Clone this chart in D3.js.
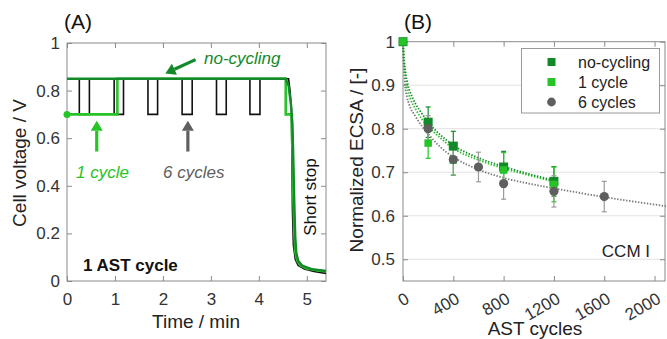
<!DOCTYPE html>
<html lang="en">
<head>
<meta charset="UTF-8">
<title>AST cycles</title>
<script src="https://cdnjs.cloudflare.com/ajax/libs/d3/7.8.5/d3.min.js"></script>
<style>
  body { margin: 0; background: #fff; }
  text { font-family: "Liberation Sans", Arial, Helvetica, sans-serif; }
</style>
</head>
<body>
<svg id="fig" width="667" height="339"></svg>
<script>
// ---- panel A: voltage traces (time in min, voltage in V)
var sixT = [0, 0.257, 0.257, 0.467, 0.467, 0.983, 0.983, 1.178, 1.178, 1.688, 1.688, 1.889, 1.889,
            2.40, 2.40, 2.61, 2.61, 3.117, 3.117, 3.32, 3.32, 3.814, 3.814, 4.023, 4.023,
            4.62, 4.65, 4.68, 4.69, 4.70, 4.72, 4.76, 4.82, 4.95, 5.15, 5.4];
var sixV = [0.85, 0.85, 0.70, 0.70, 0.85, 0.85, 0.70, 0.70, 0.85, 0.85, 0.70, 0.70, 0.85,
            0.85, 0.70, 0.70, 0.85, 0.85, 0.70, 0.70, 0.85, 0.85, 0.70, 0.70, 0.85,
            0.85, 0.80, 0.72, 0.50, 0.30, 0.15, 0.09, 0.065, 0.05, 0.04, 0.032];
var oneT = [0, 1.05, 1.05, 4.56, 4.56, 4.68, 4.70, 4.72, 4.74, 4.76, 4.80, 4.87, 5.0, 5.2, 5.4];
var oneV = [0.70, 0.70, 0.85, 0.85, 0.70, 0.70, 0.55, 0.35, 0.20, 0.12, 0.085, 0.065, 0.052, 0.045, 0.04];
var noT = [0, 4.56, 4.62, 4.67, 4.70, 4.72, 4.74, 4.76, 4.78, 4.82, 4.9, 5.1, 5.4];
var noV = [0.85, 0.85, 0.82, 0.74, 0.66, 0.50, 0.32, 0.18, 0.12, 0.085, 0.065, 0.05, 0.042];
var aXTicks = [0, 1, 2, 3, 4, 5];
var aYTicks = [0, 0.2, 0.4, 0.6, 0.8, 1];

// ---- panel B: normalized ECSA vs AST cycles
var ncX = [0, 200, 400, 800, 1200];
var ncY = [1, 0.815, 0.76, 0.712, 0.679];
var ncErr = [0, 0.035, 0.034, 0.036, 0.034];
var ocX = [0, 200, 400, 800, 1200];
var ocY = [1, 0.767, 0.728, 0.705, 0.672];
var ocErr = [0, 0.035, 0.035, 0.04, 0.04];
var scX = [200, 400, 600, 800, 1200, 1600];
var scY = [0.80, 0.729, 0.712, 0.674, 0.656, 0.644];
var scErr = [0.03, 0.035, 0.034, 0.036, 0.036, 0.035];
// fitted trend lines
var ncFitX = [0, 10, 20, 40, 70, 100, 150, 200, 300, 400, 600, 800, 1000, 1220];
var ncFitY = [1, 0.955, 0.93, 0.9, 0.875, 0.857, 0.835, 0.815, 0.785, 0.762, 0.733, 0.713, 0.696, 0.68];
var ocFitX = [0, 10, 20, 28, 60, 100, 150, 200, 300, 400, 600, 800, 1000, 1220];
var ocFitY = [1, 0.945, 0.918, 0.9, 0.868, 0.845, 0.822, 0.805, 0.778, 0.755, 0.728, 0.709, 0.693, 0.677];
var scFitX = [0, 5, 10, 16, 30, 50, 100, 150, 200, 300, 400, 600, 800, 1000, 1200, 1600, 2090];
var scFitY = [1, 0.95, 0.925, 0.9, 0.875, 0.855, 0.828, 0.806, 0.788, 0.757, 0.735, 0.706, 0.687, 0.674, 0.663, 0.643, 0.622];
var bXTicks = [0, 400, 800, 1200, 1600, 2000];
var bYTicks = [0.5, 0.6, 0.7, 0.8, 0.9, 1];
var legendNames = ['no-cycling', '1 cycle', '6 cycles'];

var darkGreen = '#13892a';
var lightGreen = '#27c428';
var grey = '#5f5f5f';
var frameCol = '#8a8a8a';

var svg = d3.select('#fig');

function zip(xs, ys) {
    return xs.map(function (x, i) { return [x, ys[i]]; });
}

function frame(g, x, y) {
    var r = x.range(), t = y.range();
    g.append('rect')
        .attr('x', r[0]).attr('y', t[1])
        .attr('width', r[1] - r[0]).attr('height', t[0] - t[1])
        .attr('fill', 'none').attr('stroke', frameCol).attr('stroke-width', 1);
}

function styleAxis(sel) {
    sel.select('.domain').remove();
    sel.selectAll('line').attr('stroke', frameCol);
    sel.selectAll('text').attr('fill', '#333').style('font-size', '17px');
}

// ================= panel A =================
var xA = d3.scaleLinear().domain([0, 5.4]).range([67, 326]);
var yA = d3.scaleLinear().domain([0, 1]).range([281, 43]);
var gA = svg.append('g');

gA.append('g').attr('transform', 'translate(0,281)')
    .call(d3.axisBottom(xA).tickValues(aXTicks).tickSizeInner(-5).tickSizeOuter(0).tickPadding(12).tickFormat(d3.format('d')))
    .call(styleAxis);
gA.append('g').attr('transform', 'translate(0,43)')
    .call(d3.axisTop(xA).tickValues(aXTicks).tickSizeInner(-5).tickSizeOuter(0).tickFormat(''))
    .call(styleAxis);
gA.append('g').attr('transform', 'translate(67,0)')
    .call(d3.axisLeft(yA).tickValues(aYTicks).tickSizeInner(-5).tickSizeOuter(0).tickPadding(7).tickFormat(d3.format('~g')))
    .call(styleAxis);
gA.append('g').attr('transform', 'translate(326,0)')
    .call(d3.axisRight(yA).tickValues(aYTicks).tickSizeInner(-5).tickSizeOuter(0).tickFormat(''))
    .call(styleAxis);
frame(gA, xA, yA);

var lineA = d3.line().x(function (d) { return xA(d[0]); }).y(function (d) { return yA(d[1]); });
gA.append('path').datum(zip(sixT, sixV)).attr('d', lineA)
    .attr('fill', 'none').attr('stroke', '#111').attr('stroke-width', 1.6);
gA.append('path').datum(zip(oneT, oneV)).attr('d', lineA)
    .attr('fill', 'none').attr('stroke', lightGreen).attr('stroke-width', 2.6);
gA.append('path').datum(zip(noT, noV)).attr('d', lineA)
    .attr('fill', 'none').attr('stroke', darkGreen).attr('stroke-width', 2.4);
gA.append('circle').attr('cx', xA(oneT[0])).attr('cy', yA(oneV[0])).attr('r', 3.5).attr('fill', lightGreen);

// arrows
function arrow(g, x0, y0, x1, y1, col) {
    var dx = x1 - x0, dy = y1 - y0, len = Math.sqrt(dx * dx + dy * dy);
    var ux = dx / len, uy = dy / len, hl = 10, hw = 6;
    var bx = x1 - ux * hl, by = y1 - uy * hl;
    g.append('line').attr('x1', x0).attr('y1', y0).attr('x2', bx).attr('y2', by)
        .attr('stroke', col).attr('stroke-width', 3.2);
    g.append('path')
        .attr('d', 'M' + x1 + ',' + y1 + 'L' + (bx - uy * hw) + ',' + (by + ux * hw) + 'L' + (bx + uy * hw) + ',' + (by - ux * hw) + 'Z')
        .attr('fill', col);
}
arrow(gA, xA(2.68), yA(0.93), xA(2.05), yA(0.872), darkGreen);
arrow(gA, xA(0.62), yA(0.544), xA(0.62), yA(0.673), lightGreen);
arrow(gA, xA(2.52), yA(0.544), xA(2.52), yA(0.673), grey);

gA.append('text').attr('x', 204).attr('y', 64).attr('fill', darkGreen)
    .style('font-size', '17px').style('font-style', 'italic').text('no-cycling');
gA.append('text').attr('x', 76).attr('y', 178).attr('fill', lightGreen)
    .style('font-size', '17px').style('font-style', 'italic').text('1 cycle');
gA.append('text').attr('x', 163).attr('y', 178).attr('fill', grey)
    .style('font-size', '17px').style('font-style', 'italic').text('6 cycles');
gA.append('text').attr('x', 83).attr('y', 271).attr('fill', '#111')
    .style('font-size', '17px').style('font-weight', 'bold').text('1 AST cycle');
gA.append('text').attr('transform', 'translate(316,197) rotate(-90)').attr('text-anchor', 'middle')
    .attr('fill', '#111').style('font-size', '17px').text('Short stop');
gA.append('text').attr('x', 196).attr('y', 328).attr('text-anchor', 'middle')
    .attr('fill', '#222').style('font-size', '19px').text('Time / min');
gA.append('text').attr('transform', 'translate(26,163) rotate(-90)').attr('text-anchor', 'middle')
    .attr('fill', '#222').style('font-size', '19px').text('Cell voltage / V');
gA.append('text').attr('x', 64).attr('y', 29).attr('fill', '#111').style('font-size', '21px').text('(A)');

// ================= panel B =================
var xB = d3.scaleLinear().domain([0, 2083]).range([403, 665]);
var yB = d3.scaleLinear().domain([0.45, 1]).range([281, 41.7]);
var gB = svg.append('g');

gB.append('g').selectAll('line').data(bYTicks.slice(0, -1)).enter().append('line')
    .attr('x1', 403).attr('x2', 665)
    .attr('y1', function (d) { return yB(d); }).attr('y2', function (d) { return yB(d); })
    .attr('stroke', '#e2e2e2').attr('stroke-width', 1);

var bx = gB.append('g').attr('transform', 'translate(0,281)')
    .call(d3.axisBottom(xB).tickValues(bXTicks).tickSizeInner(-5).tickSizeOuter(0).tickFormat(d3.format('d')))
    .call(styleAxis);
bx.selectAll('text')
    .attr('y', 0).attr('dy', 0)
    .attr('text-anchor', 'end')
    .attr('transform', 'translate(7,21) rotate(-30)');
gB.append('g').attr('transform', 'translate(0,41.7)')
    .call(d3.axisTop(xB).tickValues(bXTicks).tickSizeInner(-5).tickSizeOuter(0).tickFormat(''))
    .call(styleAxis);
gB.append('g').attr('transform', 'translate(403,0)')
    .call(d3.axisLeft(yB).tickValues(bYTicks).tickSizeInner(-5).tickSizeOuter(0).tickPadding(8).tickFormat(d3.format('~g')))
    .call(styleAxis);
gB.append('g').attr('transform', 'translate(665,0)')
    .call(d3.axisRight(yB).tickValues(bYTicks).tickSizeInner(-5).tickSizeOuter(0).tickFormat(''))
    .call(styleAxis);
frame(gB, xB, yB);

var lineB = d3.line().curve(d3.curveMonotoneX)
    .x(function (d) { return xB(d[0]); }).y(function (d) { return yB(d[1]); });

function fit(xs, ys, col) {
    gB.append('path').datum(zip(xs, ys)).attr('d', lineB)
        .attr('fill', 'none').attr('stroke', col).attr('stroke-width', 1.8)
        .attr('stroke-dasharray', '1.4,1.6');
}
function errs(xs, ys, es, col) {
    var g = gB.append('g').attr('stroke', col).attr('stroke-width', 1.2);
    xs.forEach(function (x, i) {
        if (!es[i]) return;
        var px = xB(x), top = yB(ys[i] + es[i]), bot = yB(ys[i] - es[i]);
        g.append('line').attr('x1', px).attr('x2', px).attr('y1', top).attr('y2', bot);
        g.append('line').attr('x1', px - 2.5).attr('x2', px + 2.5).attr('y1', top).attr('y2', top);
        g.append('line').attr('x1', px - 2.5).attr('x2', px + 2.5).attr('y1', bot).attr('y2', bot);
    });
}
function squares(xs, ys, s, col) {
    gB.append('g').selectAll('rect').data(zip(xs, ys)).enter().append('rect')
        .attr('x', function (d) { return xB(d[0]) - s / 2; })
        .attr('y', function (d) { return yB(d[1]) - s / 2; })
        .attr('width', s).attr('height', s).attr('fill', col);
}

fit(scFitX, scFitY, '#7a7a7a');
fit(ocFitX, ocFitY, lightGreen);
fit(ncFitX, ncFitY, darkGreen);

errs(ncX, ncY, ncErr, darkGreen);
errs(ocX, ocY, ocErr, lightGreen);
errs(scX, scY, scErr, '#9a9a9a');

squares(ncX, ncY, 9, darkGreen);
squares(ocX, ocY, 7.5, lightGreen);
gB.append('g').selectAll('circle').data(zip(scX, scY)).enter().append('circle')
    .attr('cx', function (d) { return xB(d[0]); })
    .attr('cy', function (d) { return yB(d[1]); })
    .attr('r', 4.6).attr('fill', grey);

// legend
var leg = gB.append('g');
leg.append('rect').attr('x', 521.5).attr('y', 48.5).attr('width', 138).attr('height', 64.5)
    .attr('fill', '#fff').attr('stroke', '#9a9a9a').attr('stroke-width', 1);
var legCols = [darkGreen, lightGreen, grey];
legendNames.forEach(function (name, i) {
    var cy = 62 + i * 20;
    if (i < 2) {
        leg.append('rect').attr('x', 547.5).attr('y', cy - 4).attr('width', 8).attr('height', 8).attr('fill', legCols[i]);
    } else {
        leg.append('circle').attr('cx', 551.5).attr('cy', cy).attr('r', 4.4).attr('fill', legCols[i]);
    }
    leg.append('text').attr('x', 578).attr('y', cy + 6).attr('fill', '#222')
        .style('font-size', '16px').text(name);
});

gB.append('text').attr('x', 650).attr('y', 257).attr('text-anchor', 'end')
    .attr('fill', '#222').style('font-size', '17px').text('CCM I');
gB.append('text').attr('x', 535).attr('y', 335).attr('text-anchor', 'middle')
    .attr('fill', '#222').style('font-size', '19px').text('AST cycles');
gB.append('text').attr('transform', 'translate(363,160) rotate(-90)').attr('text-anchor', 'middle')
    .attr('fill', '#222').style('font-size', '19px').text('Normalized ECSA / [-]');
gB.append('text').attr('x', 404).attr('y', 29).attr('fill', '#111').style('font-size', '21px').text('(B)');
</script>
</body>
</html>
